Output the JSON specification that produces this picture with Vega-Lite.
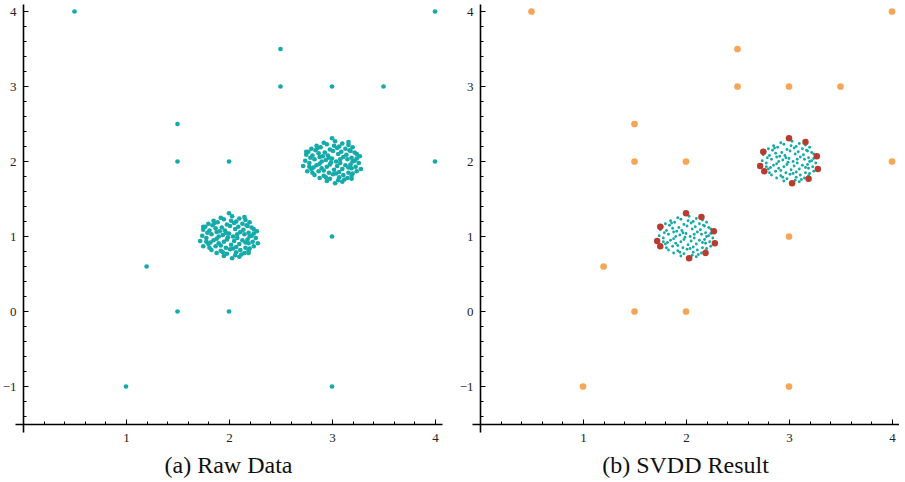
{
  "$schema": "https://vega.github.io/schema/vega-lite/v6.json",
  "padding": {"left": 2, "top": 4, "right": 0, "bottom": 0},
  "background": "white",
  "config": {
    "view": {"stroke": null},
    "axis": {"grid": false, "domainColor": "#000", "domainWidth": 1.6, "tickColor": "#000", "tickWidth": 1, "labelFont": "Liberation Serif", "labelFontSize": 13, "labelColor": "#222", "labelFlush": false, "labelOverlap": false, "format": "d"},
    "title": {"font": "Liberation Serif", "fontSize": 24, "fontWeight": "normal", "color": "#111"}
  },
  "datasets": {
    "pts": [
      {"x":1.92,"y":1.25,"g":"in"},{"x":2.03,"y":1.27,"g":"in"},{"x":2.10,"y":1.24,"g":"in"},{"x":1.85,"y":1.21,"g":"in"},{"x":1.95,"y":1.23,"g":"in"},{"x":2.07,"y":1.20,"g":"in"},{"x":2.16,"y":1.22,"g":"in"},{"x":1.80,"y":1.17,"g":"in"},{"x":1.89,"y":1.19,"g":"in"},{"x":1.98,"y":1.16,"g":"in"},
      {"x":2.05,"y":1.18,"g":"in"},{"x":2.13,"y":1.17,"g":"in"},{"x":2.20,"y":1.19,"g":"in"},{"x":1.77,"y":1.13,"g":"in"},{"x":1.84,"y":1.15,"g":"in"},{"x":1.93,"y":1.12,"g":"in"},{"x":2.01,"y":1.14,"g":"in"},{"x":2.09,"y":1.13,"g":"in"},{"x":2.17,"y":1.15,"g":"in"},{"x":2.22,"y":1.12,"g":"in"},
      {"x":1.75,"y":1.09,"g":"in"},{"x":1.87,"y":1.11,"g":"in"},{"x":1.96,"y":1.08,"g":"in"},{"x":2.06,"y":1.10,"g":"in"},{"x":2.14,"y":1.09,"g":"in"},{"x":2.24,"y":1.10,"g":"in"},{"x":1.79,"y":1.05,"g":"in"},{"x":1.91,"y":1.07,"g":"in"},{"x":2.00,"y":1.04,"g":"in"},{"x":2.11,"y":1.06,"g":"in"},
      {"x":2.19,"y":1.05,"g":"in"},{"x":2.24,"y":1.04,"g":"in"},{"x":1.74,"y":1.01,"g":"in"},{"x":1.83,"y":1.03,"g":"in"},{"x":1.94,"y":1.02,"g":"in"},{"x":2.04,"y":1.00,"g":"in"},{"x":2.15,"y":1.03,"g":"in"},{"x":2.22,"y":1.01,"g":"in"},{"x":1.78,"y":0.98,"g":"in"},{"x":1.88,"y":0.97,"g":"in"},
      {"x":1.99,"y":0.99,"g":"in"},{"x":2.08,"y":0.98,"g":"in"},{"x":2.18,"y":0.96,"g":"in"},{"x":2.26,"y":0.98,"g":"in"},{"x":1.78,"y":0.93,"g":"in"},{"x":1.85,"y":0.95,"g":"in"},{"x":1.95,"y":0.93,"g":"in"},{"x":2.05,"y":0.94,"g":"in"},{"x":2.13,"y":0.95,"g":"in"},{"x":2.23,"y":0.93,"g":"in"},
      {"x":1.80,"y":0.90,"g":"in"},{"x":1.90,"y":0.91,"g":"in"},{"x":2.02,"y":0.89,"g":"in"},{"x":2.10,"y":0.90,"g":"in"},{"x":2.19,"y":0.91,"g":"in"},{"x":2.24,"y":0.87,"g":"in"},{"x":1.81,"y":0.85,"g":"in"},{"x":1.87,"y":0.87,"g":"in"},{"x":1.97,"y":0.85,"g":"in"},{"x":2.07,"y":0.86,"g":"in"},
      {"x":2.16,"y":0.85,"g":"in"},{"x":2.20,"y":0.84,"g":"in"},{"x":1.83,"y":0.82,"g":"in"},{"x":1.92,"y":0.81,"g":"in"},{"x":2.01,"y":0.83,"g":"in"},{"x":2.11,"y":0.82,"g":"in"},{"x":2.19,"y":0.81,"g":"in"},{"x":1.88,"y":0.78,"g":"in"},{"x":1.98,"y":0.77,"g":"in"},{"x":2.07,"y":0.79,"g":"in"},
      {"x":2.15,"y":0.78,"g":"in"},{"x":1.95,"y":0.74,"g":"in"},{"x":2.06,"y":0.75,"g":"in"},{"x":2.10,"y":0.73,"g":"in"},{"x":1.86,"y":1.18,"g":"in"},{"x":2.02,"y":1.21,"g":"in"},{"x":2.18,"y":1.14,"g":"in"},{"x":1.81,"y":1.08,"g":"in"},{"x":1.97,"y":1.05,"g":"in"},{"x":2.08,"y":1.03,"g":"in"},
      {"x":2.20,"y":1.00,"g":"in"},{"x":1.90,"y":1.00,"g":"in"},{"x":1.82,"y":0.92,"g":"in"},{"x":1.98,"y":0.96,"g":"in"},{"x":2.16,"y":0.92,"g":"in"},{"x":1.92,"y":0.88,"g":"in"},{"x":2.04,"y":0.84,"g":"in"},{"x":1.94,"y":0.79,"g":"in"},{"x":2.12,"y":0.76,"g":"in"},{"x":1.88,"y":1.06,"g":"in"},
      {"x":2.92,"y":2.25,"g":"in"},{"x":3.03,"y":2.27,"g":"in"},{"x":3.10,"y":2.24,"g":"in"},{"x":2.85,"y":2.21,"g":"in"},{"x":2.95,"y":2.23,"g":"in"},{"x":3.07,"y":2.20,"g":"in"},{"x":3.16,"y":2.22,"g":"in"},{"x":2.80,"y":2.17,"g":"in"},{"x":2.89,"y":2.19,"g":"in"},{"x":2.98,"y":2.16,"g":"in"},
      {"x":3.05,"y":2.18,"g":"in"},{"x":3.13,"y":2.17,"g":"in"},{"x":3.20,"y":2.19,"g":"in"},{"x":2.77,"y":2.13,"g":"in"},{"x":2.84,"y":2.15,"g":"in"},{"x":2.93,"y":2.12,"g":"in"},{"x":3.01,"y":2.14,"g":"in"},{"x":3.09,"y":2.13,"g":"in"},{"x":3.17,"y":2.15,"g":"in"},{"x":3.22,"y":2.12,"g":"in"},
      {"x":2.75,"y":2.09,"g":"in"},{"x":2.87,"y":2.11,"g":"in"},{"x":2.96,"y":2.08,"g":"in"},{"x":3.06,"y":2.10,"g":"in"},{"x":3.14,"y":2.09,"g":"in"},{"x":3.24,"y":2.10,"g":"in"},{"x":2.79,"y":2.05,"g":"in"},{"x":2.91,"y":2.07,"g":"in"},{"x":3.00,"y":2.04,"g":"in"},{"x":3.11,"y":2.06,"g":"in"},
      {"x":3.19,"y":2.05,"g":"in"},{"x":3.24,"y":2.04,"g":"in"},{"x":2.74,"y":2.01,"g":"in"},{"x":2.83,"y":2.03,"g":"in"},{"x":2.94,"y":2.02,"g":"in"},{"x":3.04,"y":2.00,"g":"in"},{"x":3.15,"y":2.03,"g":"in"},{"x":3.22,"y":2.01,"g":"in"},{"x":2.78,"y":1.98,"g":"in"},{"x":2.88,"y":1.97,"g":"in"},
      {"x":2.99,"y":1.99,"g":"in"},{"x":3.08,"y":1.98,"g":"in"},{"x":3.18,"y":1.96,"g":"in"},{"x":3.26,"y":1.98,"g":"in"},{"x":2.78,"y":1.93,"g":"in"},{"x":2.85,"y":1.95,"g":"in"},{"x":2.95,"y":1.93,"g":"in"},{"x":3.05,"y":1.94,"g":"in"},{"x":3.13,"y":1.95,"g":"in"},{"x":3.23,"y":1.93,"g":"in"},
      {"x":2.80,"y":1.90,"g":"in"},{"x":2.90,"y":1.91,"g":"in"},{"x":3.02,"y":1.89,"g":"in"},{"x":3.10,"y":1.90,"g":"in"},{"x":3.19,"y":1.91,"g":"in"},{"x":3.24,"y":1.87,"g":"in"},{"x":2.81,"y":1.85,"g":"in"},{"x":2.87,"y":1.87,"g":"in"},{"x":2.97,"y":1.85,"g":"in"},{"x":3.07,"y":1.86,"g":"in"},
      {"x":3.16,"y":1.85,"g":"in"},{"x":3.20,"y":1.84,"g":"in"},{"x":2.83,"y":1.82,"g":"in"},{"x":2.92,"y":1.81,"g":"in"},{"x":3.01,"y":1.83,"g":"in"},{"x":3.11,"y":1.82,"g":"in"},{"x":3.19,"y":1.81,"g":"in"},{"x":2.88,"y":1.78,"g":"in"},{"x":2.98,"y":1.77,"g":"in"},{"x":3.07,"y":1.79,"g":"in"},
      {"x":3.15,"y":1.78,"g":"in"},{"x":2.95,"y":1.74,"g":"in"},{"x":3.06,"y":1.75,"g":"in"},{"x":3.10,"y":1.73,"g":"in"},{"x":2.86,"y":2.18,"g":"in"},{"x":3.02,"y":2.21,"g":"in"},{"x":3.18,"y":2.14,"g":"in"},{"x":2.81,"y":2.08,"g":"in"},{"x":2.97,"y":2.05,"g":"in"},{"x":3.08,"y":2.03,"g":"in"},
      {"x":3.20,"y":2.00,"g":"in"},{"x":2.90,"y":2.00,"g":"in"},{"x":2.82,"y":1.92,"g":"in"},{"x":2.98,"y":1.96,"g":"in"},{"x":3.16,"y":1.92,"g":"in"},{"x":2.92,"y":1.88,"g":"in"},{"x":3.04,"y":1.84,"g":"in"},{"x":2.94,"y":1.79,"g":"in"},{"x":3.12,"y":1.76,"g":"in"},{"x":2.88,"y":2.06,"g":"in"},
      {"x":2.00,"y":1.31,"g":"sv"},{"x":2.15,"y":1.26,"g":"sv"},{"x":1.75,"y":1.13,"g":"sv"},{"x":2.27,"y":1.07,"g":"sv"},{"x":1.72,"y":0.94,"g":"sv"},{"x":1.75,"y":0.87,"g":"sv"},{"x":2.28,"y":0.91,"g":"sv"},{"x":2.19,"y":0.78,"g":"sv"},{"x":2.03,"y":0.71,"g":"sv"},
      {"x":3.00,"y":2.31,"g":"sv"},{"x":3.16,"y":2.26,"g":"sv"},{"x":2.75,"y":2.13,"g":"sv"},{"x":3.27,"y":2.07,"g":"sv"},{"x":2.72,"y":1.94,"g":"sv"},{"x":2.76,"y":1.87,"g":"sv"},{"x":3.28,"y":1.90,"g":"sv"},{"x":3.19,"y":1.77,"g":"sv"},{"x":3.03,"y":1.71,"g":"sv"},
      {"x":0.5,"y":4,"g":"out"},{"x":4,"y":4,"g":"out"},{"x":2.5,"y":3.5,"g":"out"},{"x":2.5,"y":3,"g":"out"},{"x":3,"y":3,"g":"out"},{"x":3.5,"y":3,"g":"out"},{"x":1.5,"y":2.5,"g":"out"},{"x":1.5,"y":2,"g":"out"},
      {"x":2,"y":2,"g":"out"},{"x":4,"y":2,"g":"out"},{"x":3,"y":1,"g":"out"},{"x":1.2,"y":0.6,"g":"out"},{"x":1.5,"y":0,"g":"out"},{"x":2,"y":0,"g":"out"},{"x":1,"y":-1,"g":"out"},{"x":3,"y":-1,"g":"out"}
    ]
  },
  "spacing": 30,
  "bounds": "flush",
  "hconcat": [
    {
      "width": 427, "height": 428,
      "title": {"text": "(a) Raw Data", "orient": "bottom", "anchor": "middle", "offset": 8},
      "data": {"name": "pts"},
      "mark": {"type": "point", "filled": true, "opacity": 1, "size": 22, "color": "#14AAAA"},
      "encoding": {
        "x": {"field": "x", "type": "quantitative", "scale": {"domain": [-0.07767, 4.06796], "nice": false, "zero": false},
          "axis": {"orient": "bottom", "offset": -8, "values": [0.2,0.4,0.6,0.8,1,1.2,1.4,1.6,1.8,2,2.2,2.4,2.6,2.8,3,3.2,3.4,3.6,3.8,4],
            "tickSize": {"condition": {"test": "datum.value == round(datum.value)", "value": -5}, "value": -3},
            "labelExpr": "datum.value == round(datum.value) ? datum.label : ''", "labelPadding": 12, "title": null}},
        "y": {"field": "y", "type": "quantitative", "scale": {"domain": [-1.6067, 4.1], "nice": false, "zero": false},
          "axis": {"orient": "left", "offset": -8, "values": [-1.4,-1.2,-1,-0.8,-0.6,-0.4,-0.2,0,0.2,0.4,0.6,0.8,1,1.2,1.4,1.6,1.8,2,2.2,2.4,2.6,2.8,3,3.2,3.4,3.6,3.8,4],
            "tickSize": {"condition": {"test": "datum.value == round(datum.value)", "value": -5}, "value": -3},
            "labelExpr": "datum.value == round(datum.value) ? datum.label : ''", "labelPadding": 12, "title": null}}
      }
    },
    {
      "width": 427, "height": 428,
      "title": {"text": "(b) SVDD Result", "orient": "bottom", "anchor": "middle", "offset": 8},
      "data": {"name": "pts"},
      "mark": {"type": "point", "filled": true, "opacity": 1},
      "encoding": {
        "x": {"field": "x", "type": "quantitative", "scale": {"domain": [-0.07767, 4.06796], "nice": false, "zero": false},
          "axis": {"orient": "bottom", "offset": -8, "values": [0.2,0.4,0.6,0.8,1,1.2,1.4,1.6,1.8,2,2.2,2.4,2.6,2.8,3,3.2,3.4,3.6,3.8,4],
            "tickSize": {"condition": {"test": "datum.value == round(datum.value)", "value": -5}, "value": -3},
            "labelExpr": "datum.value == round(datum.value) ? datum.label : ''", "labelPadding": 12, "title": null}},
        "y": {"field": "y", "type": "quantitative", "scale": {"domain": [-1.6067, 4.1], "nice": false, "zero": false},
          "axis": {"orient": "left", "offset": -8, "values": [-1.4,-1.2,-1,-0.8,-0.6,-0.4,-0.2,0,0.2,0.4,0.6,0.8,1,1.2,1.4,1.6,1.8,2,2.2,2.4,2.6,2.8,3,3.2,3.4,3.6,3.8,4],
            "tickSize": {"condition": {"test": "datum.value == round(datum.value)", "value": -5}, "value": -3},
            "labelExpr": "datum.value == round(datum.value) ? datum.label : ''", "labelPadding": 12, "title": null}},
        "color": {"field": "g", "type": "nominal", "scale": {"domain": ["in", "sv", "out"], "range": ["#14AAAA", "#B83B2F", "#F7A656"]}, "legend": null},
        "size": {"field": "g", "type": "nominal", "scale": {"type": "ordinal", "domain": ["in", "sv", "out"], "range": [8, 42, 45]}, "legend": null}
      }
    }
  ]
}
